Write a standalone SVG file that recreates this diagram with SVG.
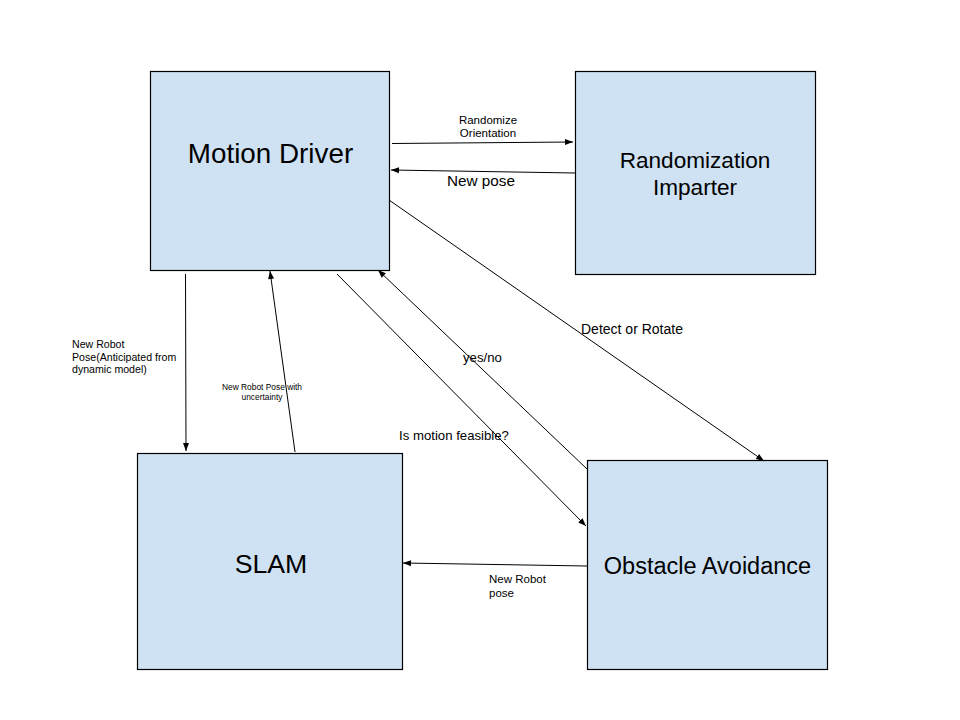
<svg xmlns="http://www.w3.org/2000/svg" width="960" height="720" viewBox="0 0 960 720">
<style>
.box{fill:#cfe2f3;stroke:#000;stroke-width:1.2}
.lbl{font-family:"Liberation Sans",Arial,sans-serif;fill:#000}
.edge{stroke:#000;stroke-width:1;fill:none;marker-end:url(#ah)}
</style>
<defs>
<marker id="ah" markerUnits="userSpaceOnUse" markerWidth="10" markerHeight="10" viewBox="0 0 10 10" refX="9" refY="5" orient="auto">
<path d="M1,2 L9,5 L1,8 Z" fill="#000"/>
</marker>
</defs>
<rect width="960" height="720" fill="#fff"/>
<g id="motion-driver">
<rect class="box" x="150.5" y="71.5" width="239" height="199"/>
<text class="lbl" x="270.5" y="163" font-size="27.8" text-anchor="middle">Motion Driver</text>
</g>
<g id="randomization-imparter">
<rect class="box" x="575.5" y="71.5" width="240" height="203"/>
<text class="lbl" x="695" y="168" font-size="22.6" text-anchor="middle">Randomization</text>
<text class="lbl" x="695" y="195" font-size="22.6" text-anchor="middle">Imparter</text>
</g>
<g id="slam">
<rect class="box" x="137.5" y="453.5" width="265" height="216"/>
<text class="lbl" x="271" y="573" font-size="26.7" text-anchor="middle">SLAM</text>
</g>
<g id="obstacle-avoidance">
<rect class="box" x="587.5" y="460.5" width="240" height="209"/>
<text class="lbl" x="707.5" y="574" font-size="23.5" text-anchor="middle">Obstacle Avoidance</text>
</g>
<g id="connectors">
<line class="edge" x1="392" y1="143.5" x2="573" y2="142"/>
<line class="edge" x1="575" y1="173" x2="391" y2="170"/>
<line class="edge" x1="185.5" y1="274" x2="186" y2="451"/>
<line class="edge" x1="295" y1="452" x2="270" y2="271"/>
<line class="edge" x1="337" y1="274" x2="586" y2="526"/>
<line class="edge" x1="587" y1="469" x2="378" y2="270"/>
<line class="edge" x1="389" y1="200" x2="764" y2="461"/>
<line class="edge" x1="587" y1="566" x2="403" y2="563"/>
<text class="lbl" x="488" y="124" font-size="11.5" text-anchor="middle">Randomize</text>
<text class="lbl" x="488" y="137" font-size="11.5" text-anchor="middle">Orientation</text>
<text class="lbl" x="447" y="186" font-size="15.3">New pose</text>
<text class="lbl" x="72" y="348" font-size="10.6">New Robot</text>
<text class="lbl" x="72" y="360.5" font-size="10.6">Pose(Anticipated from</text>
<text class="lbl" x="72" y="373" font-size="10.6">dynamic model)</text>
<text class="lbl" x="262" y="390" font-size="8.4" text-anchor="middle">New Robot Pose with</text>
<text class="lbl" x="262" y="400" font-size="8.4" text-anchor="middle">uncertainty</text>
<text class="lbl" x="463" y="362" font-size="13.2">yes/no</text>
<text class="lbl" x="399" y="440" font-size="13.2">Is motion feasible?</text>
<text class="lbl" x="581" y="334" font-size="14">Detect or Rotate</text>
<text class="lbl" x="489" y="583" font-size="11.5">New Robot</text>
<text class="lbl" x="489" y="597" font-size="11.5">pose</text>
</g>
</svg>
